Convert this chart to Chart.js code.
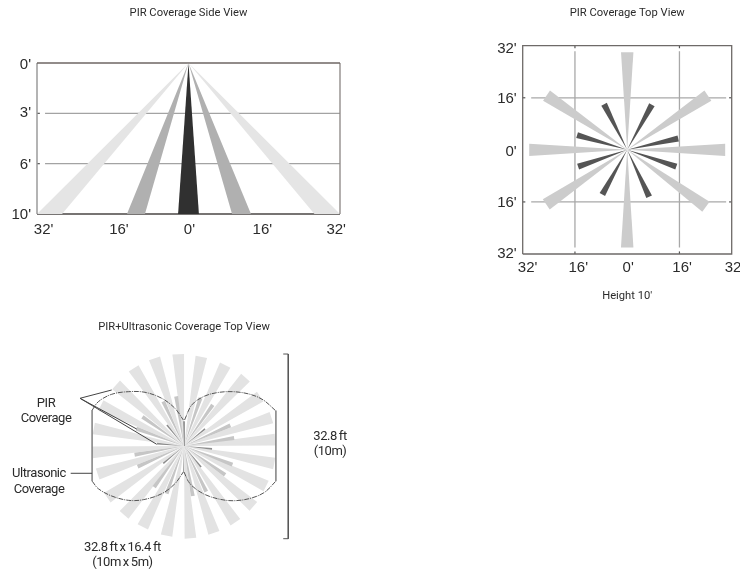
<!DOCTYPE html>
<html>
<head>
<meta charset="utf-8">
<title>PIR coverage</title>
<script src="https://cdn.jsdelivr.net/npm/chart.js@4"></script>
<style>
  html, body { margin: 0; background: #fff; }
  body { position: relative; width: 740px; height: 574px; overflow: hidden; }
  canvas { position: absolute; display: block; }
  #sideChart { left: 0; top: 0; }
  #topChart { left: 486px; top: 0; }
  #comboChart { left: 0; top: 310px; }
</style>
</head>
<body>
<canvas id="sideChart" width="382" height="250"></canvas>
<canvas id="topChart" width="254" height="310"></canvas>
<canvas id="comboChart" width="368" height="264"></canvas>
<script>
/* ---------- side view: beam edges on the floor, in feet ---------- */
var sideBeamLeft = [-32, -13, -2.2, 9.2, 26.6];
var sideBeamRight = [-26.7, -9.2, 2.2, 13.2, 32];
var sideBeamShade = ['#e5e5e5', '#b0b0b0', '#303030', '#b0b0b0', '#e5e5e5'];
var sideXTicks = [-30.6, -14.7, 0.2, 15.6, 31.2];
var sideXLabels = ["32'", "16'", "0'", "16'", "32'"];
var sideYTicks = [0.04, 1, 2.03, 3.02];
var sideYLabels = ["0'", "3'", "6'", "10'"];

/* ---------- top view: bearing in degrees from north, reach in feet ---------- */
var topLongBearing = [0, 56, 90, 126, 180, -124, -90, -56];
var topLongReach = [30, 29.8, 30, 29.8, 30, 29.9, 30, 29.8];
var topShortBearing = [28.6, 77.5, 109, 155, -151, -109, -73.6, -26.8];
var topShortReach = [15.8, 16, 15.9, 15.9, 15.7, 15.9, 16, 15.7];
var topXTicks = [-30.5, -15, 0.3, 16.8, 32.4];
var topXLabels = ["32'", "16'", "0'", "16'", "32"];
var topYTicks = [30.9, 15.6, -0.5, -16.2, -32];
var topYLabels = ["32'", "16'", "0'", "16'", "32'"];

/* ---------- PIR + ultrasonic: rays and lobes ---------- */
var comboLongBearing = [-3.6, -18.6, -33, -48, -64, -79, -94, -108, -124, -139, -153, -169,
                        176, 161, 146, 131, 116, 101, 86, 72, 57, 42, 27, 11];
var comboLongReach = [16.3, 16.4, 16.4, 16.2, 16.4, 16.3, 16.3, 16.1, 16.4, 16.2, 16.1, 16.2,
                      16.4, 16.3, 16.3, 16.3, 16.2, 16.3, 16.2, 16.3, 16.1, 16.3, 16.1, 16.1];
var comboMidBearing = [-9, -25, -55, -70, -100, -114, -144, -160, 170, 154, 125, 111, 81, 66, 35, 19];
var comboMidReach = [8.9, 8.7, 9, 9, 8.9, 9, 9, 9, 9, 9, 8.9, 9.2, 9, 9, 8.9, 9];
var comboShortBearing = [0, 51, 96, 141, 180, -130, -85, -39];
var comboShortReach = [4.4, 4.8, 5, 4.8, 4.6, 4.8, 4.8, 4.8];

var lobeTopLeftX = [-16.26, -15.2, -12.82, -9.88, -6.91, -3.95, -1.6, -0.12];
var lobeTopLeftY = [6.38, 7.85, 9.17, 9.63, 9.52, 8.46, 6.68, 4.61];
var lobeTopRightX = [0.1, 1.37, 3.42, 5.8, 8.74, 11.7, 14.06, 16.2];
var lobeTopRightY = [4.61, 7.27, 8.74, 9.45, 9.63, 9.17, 8.16, 6.3];
var lobeBottomLeftX = [-16.26, -15.2, -12.82, -9.88, -7.22, -3.95, -1.6, -0.12];
var lobeBottomLeftY = [-6.26, -7.57, -8.87, -9.63, -9.52, -8.46, -6.68, -4.61];
var lobeBottomRightX = [0, 1.06, 3.42, 6.38, 9.04, 12, 14.36, 16.26];
var lobeBottomRightY = [-4.61, -6.68, -8.46, -9.45, -9.7, -9.22, -8.16, -6.26];

var noteText = ['PIR', 'Coverage', 'Ultrasonic', 'Coverage', '32.8 ft', '(10m)', '32.8 ft x 16.4 ft', '(10m x 5m)'];
var noteX = [-24.47, -24.47, -25.71, -25.71, 25.9, 25.9, -10.92, -10.92];
var noteY = [7.57, 4.91, -5, -7.8, 1.65, -1.1, -18, -20.7];

/* ---------- helpers ---------- */
var FONT = "Roboto, 'Liberation Sans', sans-serif";

function pairs(xs, ys) {
  return xs.map(function (x, i) { return { x: x, y: ys[i] }; });
}

function shape(points, color, order) {
  return {
    data: points, showLine: true, fill: 'shape', backgroundColor: color,
    borderWidth: 0, pointRadius: 0, tension: 0, order: order, clip: false
  };
}

function line(points, color, width, order, dash, tension) {
  return {
    data: points, showLine: true, fill: false, borderColor: color, borderWidth: width,
    borderDash: dash || [], pointRadius: 0, tension: tension || 0, order: order, clip: false
  };
}

/* a beam from the sensor at the origin out to a flat end */
function beam(bearing, reach, tipWidth) {
  var a = bearing * Math.PI / 180;
  var ux = Math.sin(a), uy = Math.cos(a), h = tipWidth / 2;
  return [
    { x: 0, y: 0 },
    { x: ux * reach + uy * h, y: uy * reach - ux * h },
    { x: ux * reach - uy * h, y: uy * reach + ux * h },
    { x: 0, y: 0 }
  ];
}

function fixedTicks(values) {
  return function (scale) {
    scale.ticks = values.map(function (v) { return { value: v }; });
  };
}

function fixedSize(prop, size) {
  return function (scale) { scale[prop] = size; };
}

function axis(min, max, ticks, labels, sizeProp, size, pad, extra) {
  var opts = {
    type: 'linear', min: min, max: max,
    grid: { display: false, drawTicks: false }, border: { display: false },
    afterBuildTicks: fixedTicks(ticks),
    afterFit: fixedSize(sizeProp, size),
    ticks: {
      autoSkip: false, maxRotation: 0, color: '#2b2b2b',
      font: { family: "'Liberation Sans', sans-serif", size: 15 }, padding: pad,
      callback: function (v, i) { return labels[i]; }
    }
  };
  for (var k in extra) opts[k] = extra[k];
  return opts;
}

function baseOptions(title, top, bottom, pad) {
  return {
    responsive: false, animation: false,
    layout: { autoPadding: false, padding: pad },
    plugins: {
      legend: { display: false }, tooltip: { enabled: false },
      title: {
        display: true, text: title, color: '#2b2b2b', fullSize: false,
        font: { family: FONT, size: 11.2, weight: 'normal', lineHeight: '14px' },
        padding: { top: top, bottom: bottom }
      }
    }
  };
}

/* ---------- side view ---------- */
var sideSets = [];
sideBeamLeft.forEach(function (left, i) {
  sideSets.push(shape([{ x: 0, y: 0 }, { x: left, y: 3 }, { x: sideBeamRight[i], y: 3 }, { x: 0, y: 0 }], sideBeamShade[i], 1));
});
[1, 2].forEach(function (y) {
  sideSets.push(line([{ x: -30.3, y: y }, { x: 32, y: y }], '#a3a3a3', 1.2, 4));
  sideSets.push(line([{ x: -32, y: y }, { x: -31.4, y: y }], '#555', 1.2, 4));
});
sideSets.push(line([{ x: -32, y: 0 }, { x: 32, y: 0 }], '#6e6663', 1.5, 3));
sideSets.push(line([{ x: -32, y: 3 }, { x: 32, y: 3 }], '#4a4644', 1.3, 3));
sideSets.push(line([{ x: -32, y: 0 }, { x: -32, y: 3 }], '#9c9c9c', 1.5, 3));
sideSets.push(line([{ x: 32, y: 0 }, { x: 32, y: 3 }], '#8a8583', 1.3, 3));

var sideOptions = baseOptions('PIR Coverage Side View', 6, 43, { right: 42 });
sideOptions.scales = {
  x: axis(-32, 32, sideXTicks, sideXLabels, 'height', 36, 7),
  y: axis(0, 3, sideYTicks, sideYLabels, 'width', 37, 6, { reverse: true })
};
new Chart(document.getElementById('sideChart'), { type: 'scatter', data: { datasets: sideSets }, options: sideOptions });

/* ---------- top view ---------- */
var topSets = [];
topLongBearing.forEach(function (b, i) { topSets.push(shape(beam(b, topLongReach[i], 3.8), '#cccccc', 2)); });
topShortBearing.forEach(function (b, i) { topSets.push(shape(beam(b, topShortReach[i], 1.9), '#555555', 1)); });
[-16, 16].forEach(function (v) {
  topSets.push(line([{ x: v, y: -30 }, { x: v, y: 30.3 }], '#a8a8a8', 1.3, 4));
  topSets.push(line([{ x: -29.4, y: v }, { x: 30.3, y: v }], '#a8a8a8', 1.3, 4));
  topSets.push(line([{ x: v, y: 32 }, { x: v, y: 31.2 }], '#555', 1.2, 4));
  topSets.push(line([{ x: -32, y: v }, { x: -31.2, y: v }], '#555', 1.2, 4));
  topSets.push(line([{ x: 32, y: v }, { x: 31.2, y: v }], '#555', 1.2, 4));
  topSets.push(line([{ x: v, y: -32 }, { x: v, y: -31.2 }], '#555', 1.2, 4));
});
topSets.push(line([{ x: -32, y: -32 }, { x: -32, y: 32 }, { x: 32, y: 32 }, { x: 32, y: -32 }, { x: -32, y: -32 }], '#6e6a68', 1.3, 3));

var topCanvas = document.getElementById('topChart');
topCanvas.width = 284;  /* runs past the page edge so the 32 label can sit at the frame */
var topOptions = baseOptions('PIR Coverage Top View', 6, 25.7, { right: 38.3 });
topOptions.scales = {
  x: axis(-32, 32, topXTicks, topXLabels, 'height', 56, 5, {
    title: { display: true, text: "Height 10'", color: '#2b2b2b', font: { family: FONT, size: 11.2, weight: 'normal' }, padding: { top: 0, bottom: 7 } }
  }),
  y: axis(-32, 32, topYTicks, topYLabels, 'width', 36.7, 6)
};
new Chart(topCanvas, { type: 'scatter', data: { datasets: topSets }, options: topOptions });

/* ---------- PIR + ultrasonic top view ---------- */
var comboSets = [];
comboLongBearing.forEach(function (b, i) { comboSets.push(shape(beam(b, comboLongReach[i], 2.07), '#e3e3e3', 6)); });
comboMidBearing.forEach(function (b, i) { comboSets.push(shape(beam(b, comboMidReach[i], 0.7), '#c6c6c6', 5)); });
comboShortBearing.forEach(function (b, i) { comboSets.push(shape(beam(b, comboShortReach[i], 0.3), '#8c8c8c', 4)); });
[[lobeTopLeftX, lobeTopLeftY], [lobeTopRightX, lobeTopRightY], [lobeBottomLeftX, lobeBottomLeftY], [lobeBottomRightX, lobeBottomRightY]].forEach(function (lobe) {
  comboSets.push(line(pairs(lobe[0], lobe[1]), '#555', 1, 2, [5, 1, 1, 1], 0.35));
});
comboSets.push(line([{ x: -16.3, y: 6.38 }, { x: -16.3, y: -6.26 }], '#777', 1.4, 2));
comboSets.push(line([{ x: 16.3, y: 6.3 }, { x: 16.3, y: -6.26 }], '#777', 1.4, 2));
/* leader lines */
comboSets.push(line([{ x: -12.82, y: 9.93 }, { x: -18.44, y: 8.46 }, { x: -8.39, y: 3.01 }], '#444', 1, 1));
comboSets.push(line([{ x: -18.44, y: 8.46 }, { x: -4.84, y: 0.3 }], '#444', 1, 1));
comboSets.push(line([{ x: -20.09, y: -4.84 }, { x: -16.3, y: -4.84 }], '#444', 1, 1));
/* height bracket */
comboSets.push(line([{ x: 17.6, y: 16.31 }, { x: 18.49, y: 16.31 }, { x: 18.49, y: -16.44 }, { x: 17.6, y: -16.44 }], '#555', 1, 1));

var noteLabels = {
  id: 'noteLabels',
  afterDatasetsDraw: function (chart) {
    var ctx = chart.ctx;
    ctx.save();
    ctx.font = '13px ' + FONT;
    ctx.letterSpacing = '-0.45px';
    ctx.wordSpacing = '-0.8px';
    ctx.fillStyle = '#2b2b2b';
    ctx.textAlign = 'center';
    ctx.textBaseline = 'middle';
    noteText.forEach(function (t, i) {
      ctx.fillText(t, chart.scales.x.getPixelForValue(noteX[i]), chart.scales.y.getPixelForValue(noteY[i]));
    });
    ctx.restore();
  }
};

var comboOptions = baseOptions('PIR+Ultrasonic Coverage Top View', 10, 0, 0);
comboOptions.scales = {
  x: { type: 'linear', display: false, min: -32.63, max: 32.63 },
  y: { type: 'linear', display: false, min: -22.7, max: 19.86 }
};
new Chart(document.getElementById('comboChart'), { type: 'scatter', data: { datasets: comboSets }, options: comboOptions, plugins: [noteLabels] });
</script>
</body>
</html>
